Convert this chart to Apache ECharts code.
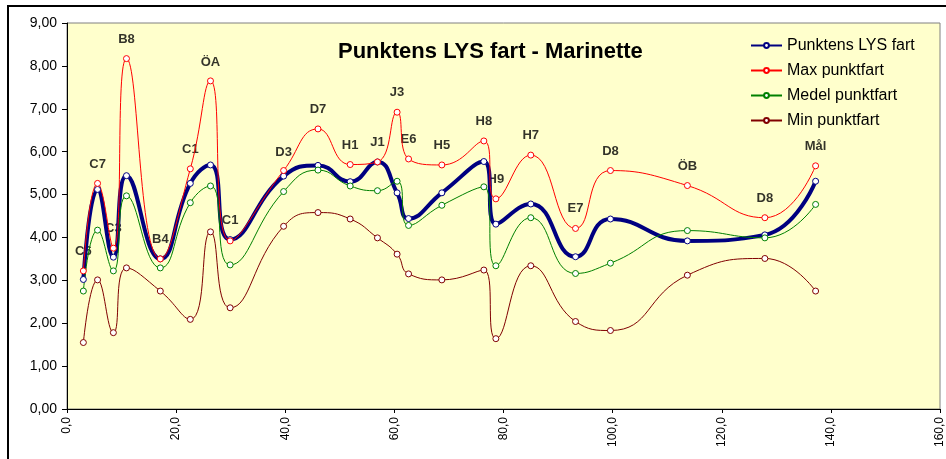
<!DOCTYPE html>
<html>
<head>
<meta charset="utf-8">
<script src="https://cdn.jsdelivr.net/npm/echarts@6/dist/echarts.min.js"></script>
<style>
  html, body { margin: 0; padding: 0; background: #fff; }
  #chart { width: 946px; height: 459px; }
</style>
</head>
<body>
<div id="chart"></div>
<script>
// avstånd (x) för varje punkt
const xs = [3.0, 5.6, 8.5, 10.9, 17.1, 22.6, 26.3, 29.9, 39.7, 46.0, 51.9, 56.9, 60.5, 62.6, 68.7, 76.4, 78.6, 85.0, 93.2, 99.6, 113.7, 127.9, 137.2];
const pointNames = ['C6', 'C7', 'C3', 'B8', 'B4', 'C1', 'ÖA', 'C1', 'D3', 'D7', 'H1', 'J1', 'J3', 'E6', 'H5', 'H8', 'H9', 'H7', 'E7', 'D8', 'ÖB', 'D8', 'Mål'];
// höjd där punktnamnet står
const labelY = [3.67, 5.71, 4.20, 8.62, 3.96, 6.05, 8.07, 4.39, 5.98, 6.99, 6.14, 6.21, 7.37, 6.29, 6.14, 6.70, 5.35, 6.37, 4.68, 6.01, 5.66, 4.91, 6.13];

const lysFart = [3.02, 5.12, 3.54, 5.44, 3.50, 5.26, 5.69, 3.95, 5.43, 5.68, 5.30, 5.76, 5.04, 4.44, 5.04, 5.77, 4.31, 4.78, 3.55, 4.43, 3.92, 4.06, 5.31];
const maxFart = [3.22, 5.26, 3.75, 8.17, 3.50, 5.60, 7.65, 3.92, 5.56, 6.53, 5.70, 5.76, 6.92, 5.83, 5.69, 6.25, 4.90, 5.92, 4.21, 5.56, 5.21, 4.46, 5.67];
const medelFart = [2.75, 4.17, 3.22, 4.97, 3.29, 4.81, 5.20, 3.36, 5.07, 5.57, 5.20, 5.09, 5.31, 4.28, 4.75, 5.18, 3.34, 4.46, 3.16, 3.40, 4.16, 3.99, 4.77];
const minFart = [1.55, 3.01, 1.78, 3.29, 2.75, 2.09, 4.13, 2.36, 4.26, 4.58, 4.43, 3.99, 3.61, 3.15, 3.01, 3.24, 1.64, 3.34, 2.04, 1.83, 3.12, 3.51, 2.75];

const FONT = 'Liberation Sans, Arial, sans-serif';
const pair = arr => xs.map((x, i) => [x, arr[i]]);

function lineSeries(name, values, color, width) {
  return {
    name: name,
    type: 'line',
    data: pair(values),
    smooth: 0.5,
    symbol: 'circle',
    symbolSize: 6,
    showAllSymbol: true,
    itemStyle: { color: '#fff', borderColor: color, borderWidth: 1 },
    lineStyle: { color: color, width: width },
    emphasis: { disabled: true }
  };
}

const myChart = echarts.init(document.getElementById('chart'));
myChart.setOption({
  animation: false,
  backgroundColor: '#fff',
  graphic: [{
    type: 'rect',
    shape: { x: 8, y: 6, width: 1000, height: 1000 },
    style: { fill: 'none', stroke: '#000', lineWidth: 2 },
    z: 100
  }],
  title: {
    text: 'Punktens LYS fart - Marinette',
    left: 338,
    top: 41,
    padding: 0,
    textStyle: { fontFamily: FONT, fontSize: 22, fontWeight: 'bold', color: '#000' }
  },
  legend: {
    data: ['Punktens LYS fart', 'Max punktfart', 'Medel punktfart', 'Min punktfart'],
    orient: 'vertical',
    left: 750,
    top: 37,
    padding: 0,
    itemWidth: 31,
    itemHeight: 6,
    itemGap: 8,
    textStyle: { fontFamily: FONT, fontSize: 16, color: '#000', lineHeight: 17 }
  },
  grid: {
    left: 67, top: 23, right: 3, bottom: 50,
    show: true,
    backgroundColor: '#FFFFCC',
    borderColor: '#808080',
    borderWidth: 1
  },
  xAxis: {
    type: 'value',
    min: 0, max: 160, interval: 20,
    axisLine: { lineStyle: { color: '#000', width: 1 } },
    axisTick: { show: true, length: 4, lineStyle: { color: '#000' } },
    splitLine: { show: false },
    axisLabel: {
      rotate: 90, margin: 8,
      fontFamily: FONT, fontSize: 12, color: '#000',
      formatter: v => v.toFixed(1).replace('.', ',')
    }
  },
  yAxis: {
    type: 'value',
    min: 0, max: 9, interval: 1,
    axisLine: { show: true, lineStyle: { color: '#000', width: 1 } },
    axisTick: { show: true, length: 5, lineStyle: { color: '#000' } },
    splitLine: { show: false },
    axisLabel: {
      margin: 10,
      fontFamily: FONT, fontSize: 14, color: '#000',
      formatter: v => v.toFixed(2).replace('.', ',')
    }
  },
  series: [
    lineSeries('Punktens LYS fart', lysFart, '#000080', 4),
    lineSeries('Max punktfart', maxFart, '#FF0000', 1),
    lineSeries('Medel punktfart', medelFart, '#008000', 1),
    lineSeries('Min punktfart', minFart, '#800000', 1),
    {
      name: 'punkter',
      type: 'scatter',
      symbolSize: 0,
      silent: true,
      data: xs.map((x, i) => ({ value: [x, labelY[i]], name: pointNames[i] })),
      label: {
        show: true,
        position: 'inside',
        formatter: p => p.name,
        fontFamily: FONT, fontSize: 13, fontWeight: 'bold', color: '#000'
      }
    }
  ]
});
</script>
</body>
</html>
